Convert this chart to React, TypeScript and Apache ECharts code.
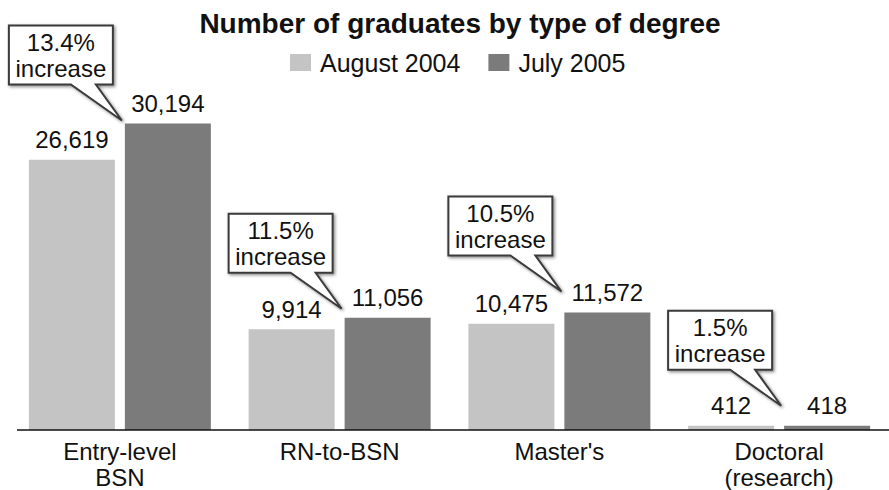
import React, { useEffect, useRef } from "react";
import * as echarts from "echarts";

const categories = ["Entry-level\nBSN", "RN-to-BSN", "Master's", "Doctoral\n(research)"];
const seriesNames = ["August 2004", "July 2005"];
const aug2004 = [26619, 9914, 10475, 412];
const jul2005 = [30194, 11056, 11572, 418];
const increaseLabels = ["13.4%", "11.5%", "10.5%", "1.5%"];
const calloutLift = [39, 45, 57, 56];

const FONT = "'Liberation Sans', Arial, Helvetica, sans-serif";

export default function App() {
  const ref = useRef<HTMLDivElement>(null);
  useEffect(() => {
    if (!ref.current) return;
    const chart = echarts.init(ref.current, null, { renderer: "svg" });
    const labelCfg = {
      show: true,
      position: "top",
      distance: 8,
      fontSize: 24,
      fontFamily: FONT,
      color: "#111",
      formatter: (p: any) => Number(p.value).toLocaleString("en-US"),
    };
    chart.setOption({
      animation: false,
      backgroundColor: "#fff",
      title: {
        text: "Number of graduates by type of degree",
        left: 460,
        top: 9,
        textAlign: "center",
        padding: 0,
        textStyle: { fontSize: 28, fontWeight: "bold", fontFamily: FONT, color: "#111" },
      },
      legend: {
        data: seriesNames,
        left: 290,
        top: 50,
        padding: 0,
        itemWidth: 21,
        itemHeight: 17,
        itemGap: 28,
        icon: "rect",
        textStyle: { fontSize: 25, fontFamily: FONT, color: "#111", padding: [0, 0, 0, 4] },
      },
      grid: { left: 10, width: 884, top: 24, height: 406 },
      xAxis: {
        type: "category",
        data: categories,
        axisTick: { show: false },
        axisLine: { show: false },
        axisLabel: { fontSize: 24, lineHeight: 26, fontFamily: FONT, color: "#111", margin: 8, interval: 0 },
      },
      yAxis: { type: "value", min: 0, max: 40000, show: false, splitLine: { show: false } },
      series: [
        {
          name: seriesNames[0],
          type: "bar",
          data: aug2004,
          barWidth: 86,
          barGap: "11.6%",
          itemStyle: { color: "#c4c4c4" },
          label: labelCfg,
        },
        {
          name: seriesNames[1],
          type: "bar",
          data: jul2005,
          barWidth: 86,
          barGap: "11.6%",
          itemStyle: { color: "#7b7b7b" },
          label: labelCfg,
        },
      ],
    });

    const graphics: any[] = [];
    const base = chart.convertToPixel({ xAxisIndex: 0, yAxisIndex: 0 }, [0, 0]) as number[];
    graphics.push({
      type: "line",
      shape: { x1: 17, y1: base[1], x2: 889, y2: base[1] },
      style: { stroke: "#111", lineWidth: 1.5 },
      z: 5,
    });
    increaseLabels.forEach((txt, i) => {
      const pt = chart.convertToPixel({ xAxisIndex: 0, yAxisIndex: 0 }, [i, jul2005[i]]) as number[];
      const cx = pt[0];
      const by = pt[1];
      const L = cx - 111;
      const R = L + 104;
      const B = by - calloutLift[i];
      const T = B - 59;
      const p1 = L + 62;
      const p2 = L + 87;
      const tx = cx + 2;
      const ty = B + 36;
      graphics.push({
        type: "polygon",
        shape: { points: [[L, T], [R, T], [R, B], [p2, B], [tx, ty], [p1, B], [L, B]] },
        style: {
          fill: "#fff",
          stroke: "#3a3a3a",
          lineWidth: 2,
          lineJoin: "miter",
          shadowBlur: 3,
          shadowOffsetX: 1.5,
          shadowOffsetY: 1.5,
          shadowColor: "rgba(0,0,0,0.45)",
        },
        z: 10,
      });
      graphics.push({
        type: "text",
        x: (L + R) / 2,
        y: (T + B) / 2,
        style: {
          text: txt + "\nincrease",
          fontSize: 24,
          lineHeight: 26,
          fontFamily: FONT,
          fill: "#111",
          align: "center",
          verticalAlign: "middle",
        },
        z: 11,
      });
    });
    chart.setOption({ graphic: graphics });

    return () => chart.dispose();
  }, []);
  return (
    <div
      ref={ref}
      style={{ position: "fixed", left: 0, top: 0, width: 889, height: 490 }}
    />
  );
}
